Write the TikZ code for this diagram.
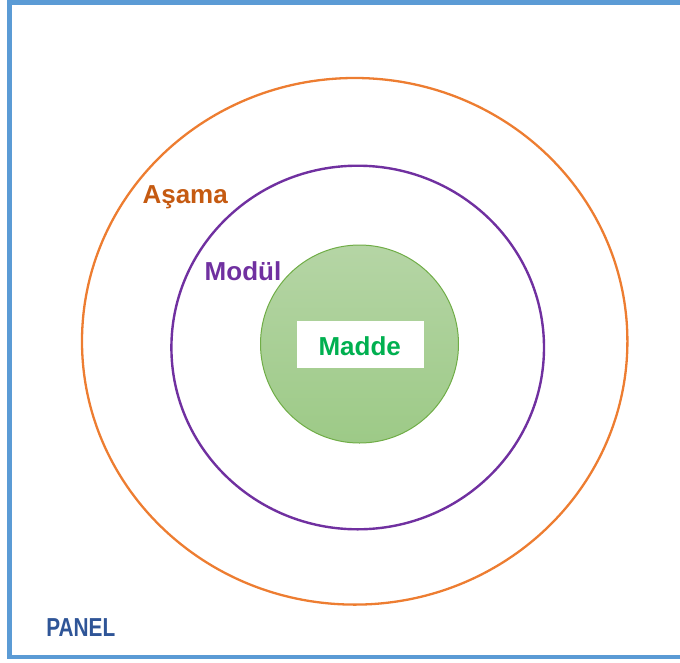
\documentclass[tikz,border=0pt]{standalone}
\usepackage{fontspec}
\setmainfont{Liberation Sans}
\usepackage{tikz}
\usetikzlibrary{calc}
\definecolor{panelblue}{HTML}{5B9BD5}
\definecolor{paneltext}{HTML}{2F5597}
\definecolor{asamaline}{HTML}{ED7D31}
\definecolor{asamatext}{HTML}{C55A11}
\definecolor{modul}{HTML}{7030A0}
\definecolor{maddetext}{HTML}{00B050}
\definecolor{maddeedge}{HTML}{70AD47}
\definecolor{maddetop}{HTML}{B5D5A5}
\definecolor{maddebot}{HTML}{9DCA87}
\tikzset{
  lbl/.style={anchor=base,font=\bfseries\fontsize{26}{30}\selectfont,inner sep=0pt}
}

\begin{document}
\begin{tikzpicture}[x=1pt,y=-1pt]
            \clip (0,0) rectangle (680,662);
            % panel frame, right side runs off the page
            \draw[panelblue,line width=4.5pt] (9.5,2.5) rectangle (700,657);
            \draw[asamaline,line width=2.3pt] (354.7,341.3) ellipse [x radius=272.7,y radius=263.3];
            \draw[modul,line width=2.4pt] (357.7,347.5) ellipse [x radius=186.3,y radius=181.8];
            \shade[top color=maddetop,bottom color=maddebot] (359.5,344) circle (99);
            \draw[maddeedge,line width=1pt] (359.5,344) circle (99);
            \fill[white] (296.7,320.7) rectangle (424,367.7);
            % labels
            \node[lbl,text=asamatext] (asama) at (185.2,203.3) {Aşama};
            \node[lbl,text=modul] (modul) at (243,280.7) {Modül};
            \node[lbl,text=maddetext] (madde) at (359.7,355.7) {Madde};
            \node[lbl,text=paneltext] (panel) at (80.8,636.7) {\scalebox{0.8}[1]{PANEL}};
        \end{tikzpicture}
\end{document}
